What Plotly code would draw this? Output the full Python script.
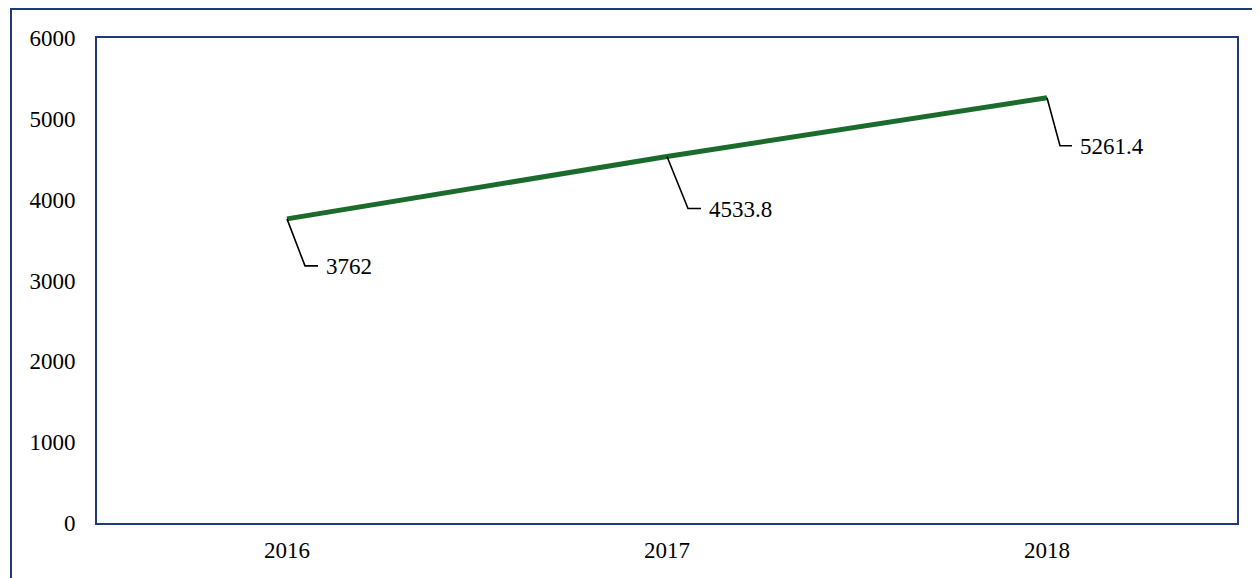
import plotly.graph_objects as go

years = ["2016", "2017", "2018"]
values = [3762, 4533.8, 5261.4]
labels = ["3762", "4533.8", "5261.4"]
y_ticks = [0, 1000, 2000, 3000, 4000, 5000, 6000]

# page body margin of the browser (8px) is compensated here
W, H = 1252, 570
ml, mt = 89, 30
pw, ph = 1140, 485
mr, mb = W - ml - pw, H - mt - ph

x_range = [-0.5, 2.5]
y_range = [0, 6000]
px_x = (x_range[1] - x_range[0]) / pw     # data units per pixel
px_y = (y_range[1] - y_range[0]) / ph

navy = "#1f3a78"
green = "#1b6b2c"
font = dict(family="Liberation Serif", size=23, color="#000000")

xs = list(range(len(years)))

fig = go.Figure()
fig.add_trace(go.Scatter(x=xs, y=values, mode="lines",
                         line=dict(color=green, width=5), hoverinfo="skip", showlegend=False))

# leader offsets (pixels): diagonal end (dx, dy down), horizontal end hx
leaders = [(18, 47, 31), (21, 52, 34), (13, 48, 25)]
annotations = []
for i, (v, lab) in enumerate(zip(values, labels)):
    dx, dy, hx = leaders[i]
    lx = [xs[i], xs[i] + dx * px_x, xs[i] + hx * px_x]
    ly = [v, v - dy * px_y, v - dy * px_y]
    fig.add_trace(go.Scatter(x=lx, y=ly, mode="lines", line=dict(color="#000000", width=1.6),
                             hoverinfo="skip", showlegend=False))
    annotations.append(dict(x=xs[i] + (hx + 6) * px_x, y=v - (dy + 1) * px_y, xref="x", yref="y",
                            text=lab, showarrow=False, xanchor="left", yanchor="middle",
                            font=font))

shapes = [dict(type="rect", xref="paper", yref="paper",
               x0=(3 - ml) / pw, x1=(W + 20 - ml) / pw,
               y0=-(mb + 20) / ph, y1=(H - mb - 1) / ph,
               line=dict(color=navy, width=2), layer="below")]

fig.update_layout(
    width=W, height=H,
    margin=dict(l=ml, r=mr, t=mt, b=mb),
    paper_bgcolor="white", plot_bgcolor="white",
    font=font,
    shapes=shapes, annotations=annotations,
    xaxis=dict(range=x_range, tickvals=xs, ticktext=years, showgrid=False, zeroline=False,
               showline=True, mirror=True, linecolor=navy, linewidth=2,
               ticks="", ticklabelstandoff=5, tickfont=font),
    yaxis=dict(range=y_range, tickvals=y_ticks, showgrid=False, zeroline=False,
               showline=True, mirror=True, linecolor=navy, linewidth=2,
               ticks="", ticklabelstandoff=15, tickfont=font),
)

fig.write_html("out.html")
